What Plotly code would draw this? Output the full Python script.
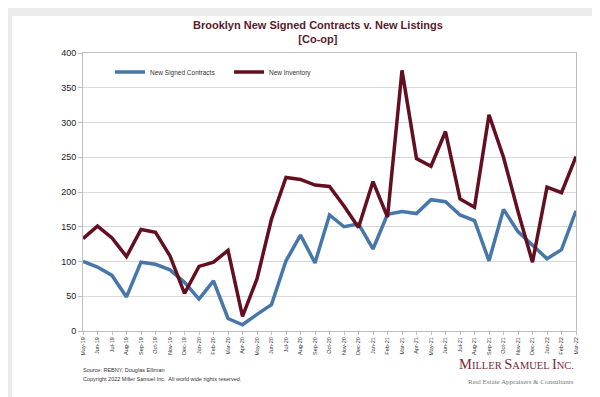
import plotly.graph_objects as go

months = ["May-19","Jun-19","Jul-19","Aug-19","Sep-19","Oct-19","Nov-19","Dec-19",
          "Jan-20","Feb-20","Mar-20","Apr-20","May-20","Jun-20","Jul-20","Aug-20",
          "Sep-20","Oct-20","Nov-20","Dec-20","Jan-21","Feb-21","Mar-21","Apr-21",
          "May-21","Jun-21","Jul-21","Aug-21","Sep-21","Oct-21","Nov-21","Dec-21",
          "Jan-22","Feb-22","Mar-22"]

new_signed_contracts = [100, 92, 80, 49, 99, 96, 88, 70,
                        46, 72, 18, 9, 24, 38, 101, 138,
                        98, 167, 150, 154, 118, 168, 172, 169,
                        189, 186, 167, 159, 101, 175, 143, 123,
                        104, 117, 173]

new_inventory = [133, 151, 134, 107, 146, 142, 108, 54,
                 93, 99, 116, 21, 75, 161, 221, 218,
                 210, 208, 180, 149, 215, 164, 375, 248,
                 237, 287, 190, 178, 311, 250, 172, 99,
                 207, 199, 251]

y_ticks = [0, 50, 100, 150, 200, 250, 300, 350, 400]

W, H = 600, 397
L, R, T, B = 75, 568, 45, 323


def px(x):
    return (x - L) / (R - L)


def py(y):
    return (B - y) / (B - T)


BLUE = "#4677a8"
MAROON = "#640f20"

fig = go.Figure()
fig.add_trace(go.Scatter(x=months, y=new_signed_contracts, mode="lines",
                         name="New Signed Contracts",
                         line=dict(color=BLUE, width=3.5)))
fig.add_trace(go.Scatter(x=months, y=new_inventory, mode="lines",
                         name="New Inventory",
                         line=dict(color=MAROON, width=3.5)))

# white card on grey page
fig.add_shape(type="rect", xref="paper", yref="paper",
              x0=px(4), x1=px(591), y0=py(390), y1=py(8),
              fillcolor="white", line=dict(width=0), layer="below")

fig.add_annotation(xref="paper", yref="paper", x=px(310), y=py(24),
                   xanchor="center", yanchor="middle", showarrow=False,
                   text="<b>Brooklyn New Signed Contracts v. New Listings<br>[Co-op]</b>",
                   font=dict(family="Liberation Sans, Arial", size=11, color="#5a1a2a"))

fig.add_annotation(xref="paper", yref="paper", x=px(73), y=py(362),
                   xanchor="left", yanchor="middle", showarrow=False,
                   text="Source: REBNY, Douglas Elliman",
                   font=dict(family="Liberation Sans, Arial", size=5.5, color="#333333"))
fig.add_annotation(xref="paper", yref="paper", x=px(73), y=py(371),
                   xanchor="left", yanchor="middle", showarrow=False,
                   text="Copyright 2022 Miller Samuel Inc.  All world wide rights reserved.",
                   font=dict(family="Liberation Sans, Arial", size=5.5, color="#333333"))

big, small = 14.5, 10.5
logo = (f'<span style="font-size:{big}px">M</span><span style="font-size:{small}px">ILLER</span> '
        f'<span style="font-size:{big}px">S</span><span style="font-size:{small}px">AMUEL</span> '
        f'<span style="font-size:{big}px">I</span><span style="font-size:{small}px">NC.</span>')
fig.add_annotation(xref="paper", yref="paper", x=px(568), y=py(356),
                   xanchor="right", yanchor="middle", showarrow=False,
                   text=logo,
                   font=dict(family="Liberation Serif, Times New Roman", size=small, color="#7b2a35"))
fig.add_annotation(xref="paper", yref="paper", x=px(568), y=py(374),
                   xanchor="right", yanchor="middle", showarrow=False,
                   text="Real Estate Appraisers &amp; Consultants",
                   font=dict(family="Liberation Serif, Times New Roman", size=7, color="#777777"))

fig.update_layout(
    width=W, height=H,
    margin=dict(l=L, r=W - R, t=T, b=H - B, pad=0),
    paper_bgcolor="#ebebeb",
    plot_bgcolor="white",
    showlegend=True,
    legend=dict(orientation="h", x=px(102), y=py(64), xanchor="left", yanchor="middle",
                font=dict(family="Liberation Sans, Arial", size=6.5, color="#333333"),
                bgcolor="rgba(0,0,0,0)", entrywidth=74, entrywidthmode="pixels",
                itemwidth=30, tracegroupgap=0),
    xaxis=dict(type="category", range=[0, len(months) - 1],
               tickangle=-90, tickfont=dict(family="Liberation Sans, Arial", size=5.5, color="#333333"),
               showgrid=False, showline=True, linecolor="#bfbfbf", linewidth=1, mirror=True,
               ticks="outside", ticklen=3, tickcolor="#bfbfbf"),
    yaxis=dict(range=[0, 400], tickvals=y_ticks,
               tickfont=dict(family="Liberation Sans, Arial", size=9, color="#222222"),
               showgrid=True, gridcolor="#d9d9d9", gridwidth=1,
               showline=True, linecolor="#bfbfbf", linewidth=1, mirror=True,
               ticks="outside", ticklen=4, tickcolor="#bfbfbf", zeroline=False),
    font=dict(family="Liberation Sans, Arial"),
)

fig.write_html("out.html")
